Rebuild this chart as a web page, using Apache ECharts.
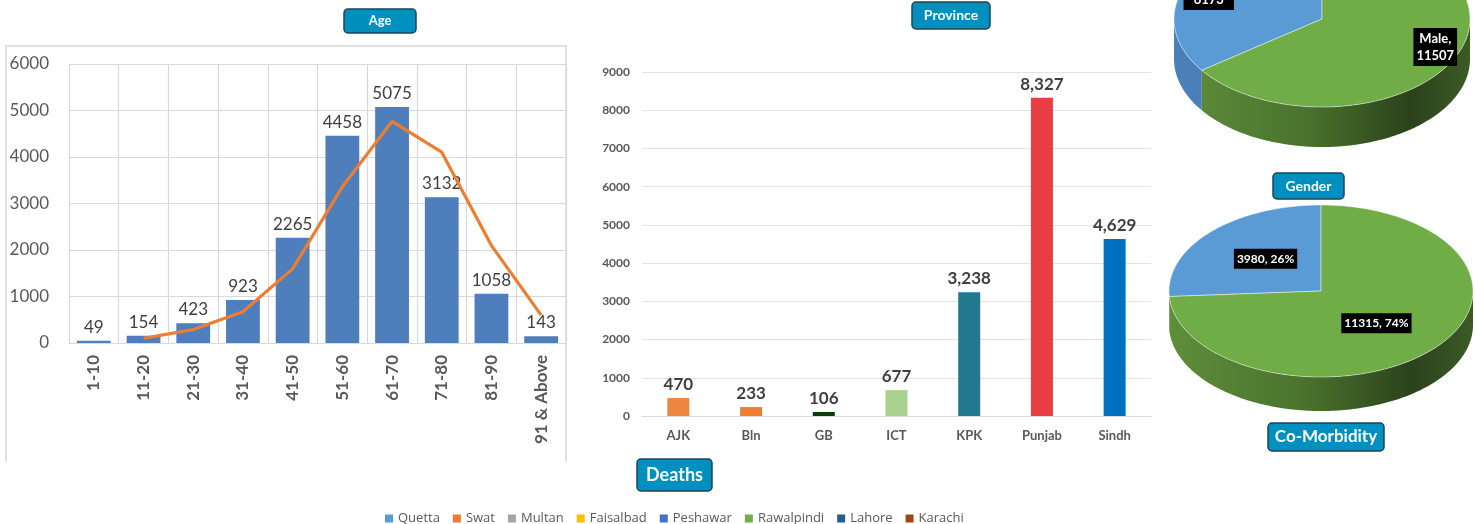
<!DOCTYPE html>
<html><head><meta charset="utf-8">
<script src="https://cdn.jsdelivr.net/npm/echarts@6/dist/echarts.min.js"></script>
<style>html,body{margin:0;padding:0;background:#fff}#c{width:1475px;height:524px}</style>
</head><body><div id="c"></div>
<script>
// ---- data ----
const ageGroups = ['1-10','11-20','21-30','31-40','41-50','51-60','61-70','71-80','81-90','91 & Above'];
const ageDeaths = [49,154,423,923,2265,4458,5075,3132,1058,143];
const ageTrend  = [null,102,288,673,1594,3361,4766,4103,2095,600];
const ageTicks  = [0,1000,2000,3000,4000,5000,6000];

const provinces = ['AJK','Bln','GB','ICT','KPK','Punjab','Sindh'];
const provinceDeaths = [470,233,106,677,3238,8327,4629];
const provinceTicks = [0,1000,2000,3000,4000,5000,6000,7000,8000,9000];

const genderNames = ['Female','Male'];
const genderValues = [6173,11507];

const comorbNames = ['With co-morbidity','Without co-morbidity'];
const comorbValues = [3980,11315];

const legendCities = ['Quetta','Swat','Multan','Faisalbad','Peshawar','Rawalpindi','Lahore','Karachi'];

// ---- styles ----
const provinceColors = ['#EF8640','#ED7D31','#0B3A0B','#A9D18E','#21788F','#E83E44','#0070C0'];
const cityColors = ['#5B9BD5','#ED7D31','#A5A5A5','#FFC000','#4472C4','#70AD47','#255E91','#9E480E'];
const FONT = 'Lato, "Open Sans", sans-serif';

function fmtComma(v){ return String(v).replace(/\B(?=(\d{3})+(?!\d))/g, ','); }

function pie3D(names, values, cfg){
  const total = values.reduce((a,b)=>a+b,0);
  return {
    type:'custom', coordinateSystem:'none', silent:true, z:5,
    data: values.map((v,i)=>({name:names[i], value:v})),
    renderItem(params, api){
      const i = params.dataIndex;
      const v = api.value(0);
      let start = 0; for(let k=0;k<i;k++) start += values[k];
      const a1 = start/total*2*Math.PI, a2 = (start+v)/total*2*Math.PI;
      const pt = (a,dy)=>[cfg.cx - cfg.rx*Math.sin(a), cfg.cy - cfg.ry*Math.cos(a) + (dy||0)];
      const children = [];
      const s1 = Math.max(a1, Math.PI/2), s2 = Math.min(a2, 1.5*Math.PI);
      if (s2 > s1){
        const up=[], dn=[];
        const n = Math.max(4, Math.ceil((s2-s1)/0.02));
        for(let k=0;k<=n;k++){ const a=s1+(s2-s1)*k/n; up.push(pt(a)); dn.push(pt(a,cfg.depth)); }
        children.push({type:'polygon', z2:1, shape:{points: up.concat(dn.reverse())},
          style:{fill:{type:'linear', x:cfg.cx-cfg.rx, y:0, x2:cfg.cx+cfg.rx, y2:0, global:true,
            colorStops:cfg.side[i]}}});
      }
      const top=[[cfg.cx,cfg.cy]];
      const n2 = Math.max(4, Math.ceil((a2-a1)/0.02));
      for(let k=0;k<=n2;k++) top.push(pt(a1+(a2-a1)*k/n2));
      children.push({type:'polygon', z2:2, shape:{points:top},
        style:{fill:cfg.colors[i], stroke:'rgba(255,255,255,0.45)', lineWidth:1}});
      const mid = (a1+a2)/2;
      const lp = [cfg.cx - cfg.rx*cfg.lfx*Math.sin(mid), cfg.cy - cfg.ry*cfg.lfy*Math.cos(mid)];
      children.push({type:'text', z2:3, x:lp[0], y:lp[1],
        style:{text: cfg.label(names[i], v, total), fill:'#fff', backgroundColor:'#000',
          padding:[2,3], fontFamily:FONT, fontWeight:'bold', fontSize:cfg.fs, lineHeight:cfg.fs+4,
          align:'center', verticalAlign:'middle'}});
      return {type:'group', children};
    }
  };
}

const greenSide = [{offset:0,color:'#5E8E3A'},{offset:0.45,color:'#4A722E'},{offset:0.8,color:'#2B421B'},{offset:1,color:'#3B5B26'}];
const blueSide = [{offset:0,color:'#4C80BA'},{offset:1,color:'#3F6EA3'}];

function titleBox(text, x, y, w, h, fs){
  return {type:'group', z:50, children:[
    {type:'rect', shape:{x:x, y:y, width:w, height:h, r:4},
      style:{fill:'#0090BF', stroke:'#1B4657', lineWidth:1.5}},
    {type:'text', x:x+w/2, y:y+h/2, style:{text:text, fill:'#fff', fontFamily:FONT,
      fontWeight:'bold', fontSize:fs, align:'center', verticalAlign:'middle'}}
  ]};
}

const chart = echarts.init(document.getElementById('c'), null, {renderer:'canvas'});
const option = {
  animation:false,
  backgroundColor:'#fff',
  textStyle:{fontFamily:FONT},
  grid:[
    {left:69, right:909, top:64, bottom:181},
    {left:642, right:324, top:72, bottom:108}
  ],
  xAxis:[
    {gridIndex:0, type:'category', data:ageGroups, boundaryGap:true,
      axisLine:{lineStyle:{color:'#D9D9D9'}}, axisTick:{show:false},
      splitLine:{show:true, lineStyle:{color:'#D9D9D9', width:1.2}},
      axisLabel:{rotate:90, margin:12, fontSize:17, fontWeight:'bold', color:'#595959', interval:0}},
    {gridIndex:1, type:'category', data:provinces,
      axisLine:{lineStyle:{color:'#D9D9D9'}}, axisTick:{show:false},
      axisLabel:{margin:13, fontSize:13, fontWeight:'bold', color:'#595959', interval:0}}
  ],
  yAxis:[
    {gridIndex:0, type:'value', min:ageTicks[0], max:ageTicks[ageTicks.length-1], interval:1000,
      axisLine:{show:false}, axisTick:{show:false},
      splitLine:{lineStyle:{color:'#D9D9D9', width:1.2}},
      axisLabel:{margin:20, fontSize:17, color:'#595959', formatter:v=>String(v)}},
    {gridIndex:1, type:'value', min:provinceTicks[0], max:provinceTicks[provinceTicks.length-1], interval:1000,
      axisLine:{show:false}, axisTick:{show:false},
      splitLine:{lineStyle:{color:'#E3E3E3', width:1.2}},
      axisLabel:{margin:12, fontSize:12, fontWeight:'bold', color:'#595959', formatter:v=>String(v)}}
  ],
  legend:{left:380, top:507, icon:'rect', itemWidth:8, itemHeight:8, itemGap:13,
    textStyle:{fontSize:13, color:'#595959', fontFamily:'"Open Sans", sans-serif'},
    data:legendCities},
  series:[
    {type:'bar', xAxisIndex:0, yAxisIndex:0, data:ageDeaths, barCategoryGap:'32%',
      itemStyle:{color:'#4E7EBB'},
      label:{show:true, position:'top', distance:5, fontSize:17, color:'#404040'}},
    {type:'line', xAxisIndex:0, yAxisIndex:0, data:ageTrend, showSymbol:false, symbol:'none',
      lineStyle:{color:'#ED7D31', width:3.2}, z:3},
    {type:'bar', xAxisIndex:1, yAxisIndex:1, barWidth:22,
      data:provinceDeaths.map((v,i)=>({value:v, itemStyle:{color:provinceColors[i]}})),
      label:{show:true, position:'top', distance:5, fontSize:17, fontWeight:'bold', color:'#404040',
        formatter:p=>fmtComma(p.value)}},
    pie3D(genderNames, genderValues, {cx:1322, cy:19, rx:148, ry:88, depth:40,
      colors:['#5B9BD5','#70AD47'], side:[blueSide, greenSide], lfx:0.86, lfy:0.7, fs:13,
      label:(n,v)=>n+',\n'+v}),
    pie3D(comorbNames, comorbValues, {cx:1321, cy:291, rx:152, ry:86, depth:34,
      colors:['#5B9BD5','#70AD47'], side:[blueSide, greenSide], lfx:0.5, lfy:0.55, fs:12,
      label:(n,v,t)=>v+', '+Math.round(v/t*100)+'%'})
  ].concat(legendCities.map((c,i)=>({type:'line', name:c, xAxisIndex:0, yAxisIndex:0, data:[],
      itemStyle:{color:cityColors[i]}, lineStyle:{color:cityColors[i]}}))),
  graphic:[
    {type:'polyline', z:1, silent:true, shape:{points:[[6,462],[6,46],[566,46],[566,462]]},
      style:{stroke:'#D9D9D9', lineWidth:1.5, fill:null}},
    titleBox('Age', 344, 9, 72, 24, 13),
    titleBox('Province', 912, 2, 78, 27, 14),
    titleBox('Gender', 1273, 173, 71, 26, 14),
    titleBox('Co-Morbidity', 1268, 423, 116, 28, 17),
    titleBox('Deaths', 637, 459, 75, 32, 18)
  ]
};
chart.setOption(option);
</script></body></html>
